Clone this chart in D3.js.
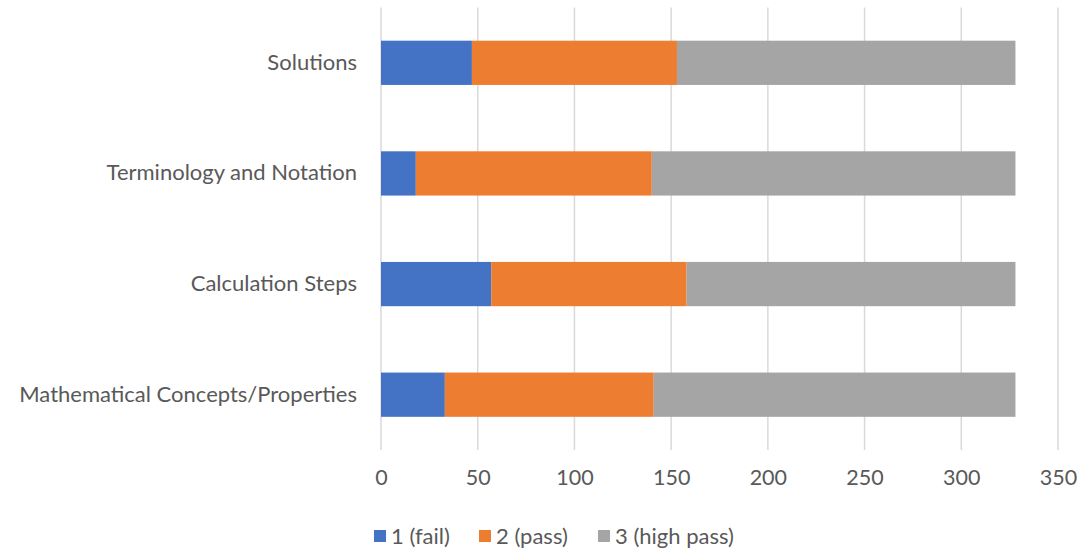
<!DOCTYPE html>
<html>
<head>
<meta charset="utf-8">
<script src="https://cdn.jsdelivr.net/npm/d3@7"></script>
<style>
  body { margin: 0; background: #fff; }
  text { font-family: Lato, "Open Sans", sans-serif; fill: #595959; }
</style>
</head>
<body>
<div id="chart"></div>
<script>
// Categories, top to bottom
var categories = ["Solutions", "Terminology and Notation", "Calculation Steps", "Mathematical Concepts/Properties"];
var seriesNames = ["1 (fail)", "2 (pass)", "3 (high pass)"];
var fail = [47, 18, 57, 33];
var pass = [106, 122, 101, 108];
var highPass = [175, 188, 170, 187];
var xTicks = [0, 50, 100, 150, 200, 250, 300, 350];
var colors = ["#4472c4", "#ed7d31", "#a5a5a5"];

var W = 1079, H = 548;
var margin = {top: 7.5, right: 21, bottom: 98, left: 381};
var w = W - margin.left - margin.right,
    h = H - margin.top - margin.bottom;

var svg = d3.select("#chart").append("svg")
  .attr("width", W).attr("height", H);
var g = svg.append("g")
  .attr("transform", `translate(${margin.left},${margin.top})`);

var x = d3.scaleLinear().domain([0, 350]).range([0, w]);
var y = d3.scaleBand().domain(categories).range([0, h]).paddingInner(0.6).paddingOuter(0.3);

// gridlines
g.selectAll(".grid")
  .data(xTicks)
  .enter().append("line")
  .attr("x1", d => x(d)).attr("x2", d => x(d))
  .attr("y1", 0).attr("y2", h)
  .style("stroke", "#d9d9d9")
  .style("stroke-width", 1.5);

// stack the data
var rows = categories.map((c, i) => ({cat: c, s0: fail[i], s1: pass[i], s2: highPass[i]}));
var stack = d3.stack().keys(["s0", "s1", "s2"])(rows);

g.selectAll(".series")
  .data(stack)
  .enter().append("g")
  .attr("fill", (d, i) => colors[i])
  .selectAll("rect")
  .data(d => d)
  .enter().append("rect")
  .attr("x", d => x(d[0]))
  .attr("width", d => x(d[1]) - x(d[0]))
  .attr("y", d => y(d.data.cat))
  .attr("height", y.bandwidth());

// x axis labels
var xAxis = g.append("g")
  .attr("transform", `translate(0,${h})`)
  .call(d3.axisBottom(x).tickValues(xTicks).tickSize(0).tickPadding(20));
xAxis.select(".domain").remove();
xAxis.selectAll("text").style("font-size", "21.5px").style("fill", "#595959")
  .attr("font-family", "Lato, Open Sans, sans-serif");

// y axis labels
var yAxis = g.append("g")
  .call(d3.axisLeft(y).tickSize(0).tickPadding(24));
yAxis.select(".domain").remove();
yAxis.selectAll("text").style("font-size", "22px").style("fill", "#595959")
  .attr("font-family", "Lato, Open Sans, sans-serif");

// legend
var legendX = [374, 479, 598];
var legend = svg.selectAll(".legend")
  .data(seriesNames)
  .enter().append("g")
  .attr("transform", (d, i) => `translate(${legendX[i]},${530})`);
legend.append("rect")
  .attr("width", 12).attr("height", 12)
  .attr("fill", (d, i) => colors[i]);
legend.append("text")
  .attr("x", 17).attr("y", 6).attr("dy", "0.35em")
  .style("font-size", "22px")
  .text(d => d);
</script>
</body>
</html>
